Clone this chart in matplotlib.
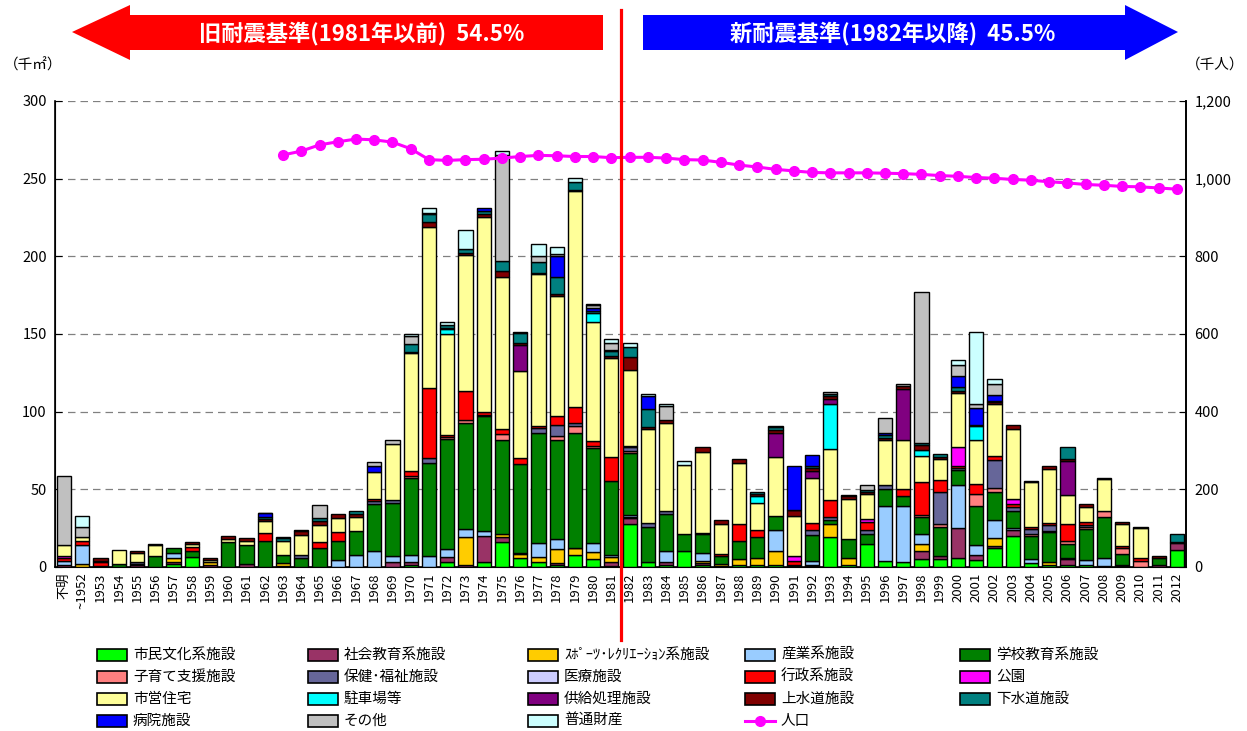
import matplotlib
matplotlib.use("Agg")
import matplotlib.pyplot as plt
from matplotlib.patches import Polygon, Rectangle
from matplotlib.lines import Line2D
from matplotlib.ticker import FuncFormatter
import numpy as np

plt.rcParams['font.family'] = ['Noto Sans CJK JP', 'DejaVu Sans']

# ---- data (千㎡), index 0 = 不明, 1 = ~1952, 2 = 1953 ... 61 = 2012
years = ['不明', '~1952'] + [str(y) for y in range(1953, 2013)]

shimin = [0, 0, 0, 0, 0, 0, 2, 6.5, 0, 0,
          0, 0, 0.5, 0, 0, 0, 0, 0, 0, 1,
          0, 3, 0, 3.5, 16, 5.5, 3.5, 1, 7.5, 5,
          0.5, 27.5, 3, 1.5, 10, 1, 0.5, 1, 1, 1.5,
          0.5, 0.5, 19.5, 1.5, 15, 4, 3.5, 5, 5, 5.5,
          4.5, 12.5, 20, 2.5, 1.5, 1.5, 1.5, 0.5, 0.5, 0,
          0, 11]
shakai = [1, 0, 0, 0, 1, 0, 1.5, 0, 1, 0,
          2, 0, 0, 0, 0, 0, 0, 0, 3, 2,
          0, 3.5, 1, 16.5, 3.5, 0, 0, 1.5, 0, 0,
          3, 4, 0, 1.5, 0, 1.5, 0, 0, 0, 0,
          0, 1, 0, 0, 0, 0, 0, 5, 2, 19.5,
          3.5, 1, 3.5, 0, 0, 3.5, 0, 0, 1, 0,
          1.5, 4.5]
sports = [0, 2, 0.5, 0, 0, 0, 2, 0, 2, 0,
          0, 0, 2, 0, 0, 0, 0, 0, 0, 0,
          0, 0, 18, 0, 2, 3, 3, 9, 4.5, 4.5,
          3, 1, 0, 0, 0, 1.5, 1.5, 4, 5, 9,
          0, 0, 8, 4.5, 0, 0, 0, 5, 0, 0,
          0, 5, 0, 0, 2, 0, 0, 0, 0, 0,
          0, 0]
sangyo = [3, 12, 0, 0, 1, 0, 3.5, 0, 0, 0,
          0, 0, 0, 0, 0, 4.5, 8, 10.5, 4, 4.5,
          7, 5, 5.5, 3, 0, 0.5, 9, 6.5, 0.5, 6,
          1, 1, 0, 7, 0, 5, 0, 0, 0, 13.5,
          0, 2.5, 0, 0, 0, 35, 36, 6, 0, 28,
          6, 12, 1.5, 2.5, 0, 1, 3, 5.5, 0, 0,
          0, 0]
gakko = [0, 0, 0, 2, 0, 7, 3.5, 4, 0, 16,
         12, 17, 5, 6, 12, 12.5, 15, 30, 34, 50,
         60, 71, 68, 74, 60, 57, 71, 64, 74, 61,
         48, 40, 23, 24, 11, 12, 5, 12, 13, 9,
         1, 16.5, 2.5, 12, 6, 11, 6.5, 11, 18.5, 9.5,
         25, 17.5, 11, 15, 19, 8.5, 20, 26, 7, 0,
         4.5, 0]
kosodate = [0, 0, 0, 0, 0, 0, 0, 0, 0, 0,
            0, 0, 0, 0, 0, 0, 0, 0, 0, 1,
            0, 1, 2, 1, 4, 0, 0, 2.5, 4, 1.5,
            0, 1, 0, 0, 0, 1, 0, 0, 0, 0,
            0, 0, 0, 0, 0, 0, 0, 1.5, 2, 0,
            8, 3, 0, 1, 0.5, 2, 1, 4, 4, 4,
            0, 0]
hoken = [0, 0, 0, 0, 1, 0, 0, 0, 0, 0,
         0, 0, 0, 1.5, 0, 0, 0, 2, 2, 0,
         3, 0, 0, 0, 0, 0, 3, 7, 2.5, 0,
         0, 2.5, 2.5, 2, 0, 0, 0, 0, 0, 0,
         0, 3.5, 2.5, 0, 2.5, 3, 0, 0, 21, 1.5,
         0, 18, 2.5, 3.5, 4, 0, 1.5, 0, 0, 0,
         0, 0]
iryo = [0] * 62
gyosei = [2, 3, 2.5, 0, 0, 0, 0, 2.5, 0, 0,
          0, 5, 0, 0, 4, 5.5, 0, 1.5, 0, 3.5,
          45, 1.5, 18.5, 1.5, 3.5, 4, 1, 6, 10, 3,
          15, 1, 0, 0, 0, 0, 1.5, 11, 5, 0,
          2.5, 4.5, 10.5, 0, 5.5, 0, 4.5, 21.5, 7.5, 1,
          6.5, 2.5, 2, 1.5, 1.5, 11.5, 2, 0, 1, 2,
          0, 0]
koen = [1, 0, 0, 0, 0, 0, 0, 0, 0, 0,
        0, 0, 0, 0, 0, 0, 0, 0, 0, 0,
        0, 0, 0, 0, 0, 0, 0, 0, 0, 0,
        0, 0, 0, 0, 0, 0, 0, 0, 0, 0,
        3, 0, 0, 0, 2, 0, 0, 0, 0, 12.5,
        0, 0, 3, 0, 0, 0, 0, 0, 0, 0,
        0, 0]
shiei = [7, 2.5, 1, 9, 6, 7, 0, 2, 1.5, 2,
         3, 7.5, 9, 13, 11, 9, 9, 17, 36, 75.5,
         104, 65, 88, 126, 98, 56, 98, 77, 139, 77,
         64, 49, 60.5, 57, 44.5, 52, 19.5, 39, 17, 38,
         26, 28.5, 33, 25.5, 16, 28.5, 31, 16.5, 13.5, 34.5,
         28.5, 33.5, 45.5, 28.5, 34.5, 18.5, 9.5, 20.5, 14.5, 19,
         0, 0]
chusha = [0, 0, 0, 0, 0, 0, 0, 0, 0, 0,
          0, 0, 0, 0, 0, 0, 0, 0, 0, 0,
          0, 3, 0, 0, 0, 0, 0, 0, 0, 5.5,
          0, 0, 0, 0, 0, 0, 0, 0, 5, 0,
          0, 0, 29, 0, 0, 0, 0, 4, 0, 0,
          8.5, 0, 0, 0, 0, 0, 0, 0, 0, 0,
          0, 0]
kyokyu = [0, 0, 0, 0, 0, 0, 0, 0, 0, 0,
          0, 0, 0, 0, 0, 0, 0, 0, 0, 0,
          0, 0, 0, 0, 0, 17, 0, 0, 0, 0,
          0, 0, 0, 0, 0, 0, 0, 0, 0, 15,
          0, 5, 3, 0, 0, 0, 33, 0, 0, 0,
          0, 0, 0, 0, 0, 22, 0, 0, 0, 0,
          0, 0]
josui = [0, 0, 1.5, 0, 1, 1, 0, 1, 1.5, 2,
         1.5, 1.5, 0, 2.5, 2.5, 2.5, 2, 0, 0, 1,
         3, 1, 1, 1.5, 3.5, 1.5, 1, 1, 1, 0,
         1.5, 8, 1, 1.5, 0, 3, 2.5, 2.5, 1, 2,
         3.5, 1.5, 2, 2, 1, 1.5, 2, 3, 1, 1.5,
         0, 1, 2.5, 1, 2, 1, 2, 1, 1, 1,
         1, 0.5]
gesui = [0, 0, 0, 0, 0, 0, 0, 0, 0, 0,
         0, 1.5, 2, 1, 2, 0, 2, 0, 0, 5,
         5, 2, 3, 2, 6.5, 6, 7, 11.5, 5, 1.5,
         3, 6.5, 12, 0, 0, 0, 0, 0, 1.5, 2,
         0.5, 1.5, 1.5, 1, 1.5, 2, 0, 1.5, 2.5, 2.5,
         1, 1, 0, 0, 0, 7.5, 0, 0, 0, 0,
         0, 5]
byoin = [0, 0, 0, 0, 0, 0, 0, 0, 0, 0,
         0, 2, 0, 0, 0, 0, 0, 4, 0, 0,
         1, 0, 0, 2, 0, 1, 0, 13.5, 0, 1.5,
         1, 0, 8, 0, 0, 0, 0, 0, 0, 0,
         28, 7, 0, 0, 0, 1, 0, 0, 0, 7,
         11, 4, 0, 0, 0, 0, 0, 0, 0, 0,
         0, 0]
sonota = [44.5, 6, 0, 0, 0, 0, 0, 0, 0, 0,
          0, 0.5, 0, 0, 8.5, 0, 0, 2.5, 3, 5,
          0, 0, 0, 0, 68, 0, 4, 1, 0, 2,
          4.5, 0, 0, 9, 0, 0, 0, 0, 0, 0.5,
          0, 0, 1, 0, 3, 10, 1.5, 97, 0, 7,
          2.5, 6.5, 0, 0, 0, 0, 0, 0, 0, 0,
          0, 0]
futsu = [0, 7.5, 0, 0, 0, 0, 0, 0, 0, 0,
         0, 0, 1, 0, 0, 0, 0, 0, 0, 1.5,
         3, 2, 12, 0, 2.5, 0, 7.5, 4.5, 2.5, 1,
         2.5, 2.5, 1.5, 1.5, 2.5, 0, 0, 0, 0, 0,
         0, 0, 0, 0, 0, 0, 0, 0, 0, 3,
         46, 3.5, 0, 0, 0, 0, 0, 0, 0, 0,
         0, 0]

# population (千人), 1963-2012
pop_years = list(range(1963, 2013))
population = [1061, 1071, 1087, 1095, 1102, 1100, 1094, 1077, 1049, 1047,
              1049, 1050, 1053, 1057, 1060, 1059, 1057, 1057, 1054, 1055,
              1055, 1053, 1049, 1048, 1042, 1035, 1030, 1024, 1020, 1016,
              1015, 1015, 1015, 1014, 1013, 1011, 1008, 1006, 1003, 1001,
              998, 996, 992, 989, 985, 983, 980, 979, 976, 973]

series = [
    ('市民文化系施設', shimin, '#00FF00'),
    ('社会教育系施設', shakai, '#993366'),
    ('ｽﾎﾟｰﾂ･ﾚｸﾘｴｰｼｮﾝ系施設', sports, '#FFCC00'),
    ('産業系施設', sangyo, '#99CCFF'),
    ('学校教育系施設', gakko, '#008000'),
    ('子育て支援施設', kosodate, '#FF8080'),
    ('保健･福祉施設', hoken, '#666699'),
    ('医療施設', iryo, '#CCCCFF'),
    ('行政系施設', gyosei, '#FF0000'),
    ('公園', koen, '#FF00FF'),
    ('市営住宅', shiei, '#FFFF99'),
    ('駐車場等', chusha, '#00FFFF'),
    ('供給処理施設', kyokyu, '#800080'),
    ('上水道施設', josui, '#800000'),
    ('下水道施設', gesui, '#008080'),
    ('病院施設', byoin, '#0000FF'),
    ('その他', sonota, '#C0C0C0'),
    ('普通財産', futsu, '#CCFFFF'),
]

W, H = 1247, 731
fig = plt.figure(figsize=(W / 100, H / 100), dpi=100)
ax = fig.add_axes([55 / W, 1 - 567 / H, 1131 / W, 466 / H])

x = np.arange(len(years))
bottom = np.zeros(len(years))
for name, vals, col in series:
    v = np.array(vals, dtype=float)
    m = v > 0
    ax.bar(x[m], v[m], bottom=bottom[m], width=0.78, color=col,
           edgecolor='black', linewidth=1.0, zorder=3)
    bottom += v

ax.set_xlim(-0.5, len(years) - 0.5)
ax.set_ylim(0, 300)
ax.set_yticks(range(0, 301, 50))
ax.yaxis.grid(True, linestyle=(0, (6, 4)), color='#808080', linewidth=0.9, zorder=0)
ax.set_axisbelow(True)
ax.set_xticks(x)
ax.set_xticklabels(years, rotation=90, fontsize=9.5, va='top')
ax.tick_params(axis='x', length=0, pad=4)
ax.tick_params(axis='y', direction='in', length=5, labelsize=10.5, pad=6)
ax.spines['top'].set_visible(False)
for s in ['left', 'right', 'bottom']:
    ax.spines[s].set_linewidth(1.2)

ax2 = ax.twinx()
ax2.set_ylim(0, 1200)
ax2.set_yticks(range(0, 1201, 200))
ax2.yaxis.set_major_formatter(FuncFormatter(lambda v, p: f'{int(v):,}'))
ax2.tick_params(axis='y', direction='in', length=5, labelsize=10.5, pad=6)
ax2.spines['top'].set_visible(False)
ax2.spines['right'].set_linewidth(1.2)
pop_x = [years.index(str(y)) for y in pop_years]
ax2.plot(pop_x, population, color='#FF00FF', linewidth=2.2, marker='o',
         markersize=7, zorder=5)
ax2.axvline(30.5, ymin=-73 / 466, ymax=557 / 466, color='#FF0000',
            linewidth=2.3, clip_on=False, zorder=6)

fig.text(33 / W, 1 - 65 / H, '（千㎡）', fontsize=10.5, ha='center', va='center')
fig.text(1215 / W, 1 - 65 / H, '（千人）', fontsize=10.5, ha='center', va='center')


def px(pts):
    return [(a / W, 1 - b / H) for a, b in pts]


red_arrow = [(72, 32), (130, 5), (130, 15), (603, 15), (603, 50), (130, 50), (130, 60)]
blue_arrow = [(643, 15), (1125, 15), (1125, 5), (1178, 32), (1125, 60), (1125, 50), (643, 50)]
fig.patches.append(Polygon(px(red_arrow), closed=True, facecolor='#FF0000',
                           edgecolor='none', transform=fig.transFigure))
fig.patches.append(Polygon(px(blue_arrow), closed=True, facecolor='#0000FF',
                           edgecolor='none', transform=fig.transFigure))
fig.text(362 / W, 1 - 33 / H, '旧耐震基準(1981年以前)  54.5%', color='white',
         fontsize=16, fontweight='bold', ha='center', va='center')
fig.text(893 / W, 1 - 33 / H, '新耐震基準(1982年以降)  45.5%', color='white',
         fontsize=16, fontweight='bold', ha='center', va='center')

# legend, drawn row by row like the original
col_x = [97, 308, 528, 745, 960]
row_y = [655, 677, 699, 721]
entries = [(n, c) for n, v, c in series] + [('人口', None)]
for i, (name, col) in enumerate(entries):
    r, c = divmod(i, 5)
    lx, ly = col_x[c], row_y[r]
    if col is None:
        fig.add_artist(Line2D([lx / W, (lx + 15) / W, (lx + 30) / W],
                              [1 - ly / H] * 3,
                              color='#FF00FF', linewidth=2.2, marker='o',
                              markersize=7, markevery=[1],
                              transform=fig.transFigure))
    else:
        fig.patches.append(Rectangle((lx / W, 1 - (ly + 6) / H), 30 / W, 12 / H,
                                     facecolor=col, edgecolor='black',
                                     linewidth=1.2, transform=fig.transFigure))
    fig.text((lx + 36) / W, 1 - ly / H, name, fontsize=10.5, ha='left', va='center')

fig.savefig('out.png', dpi=100)
